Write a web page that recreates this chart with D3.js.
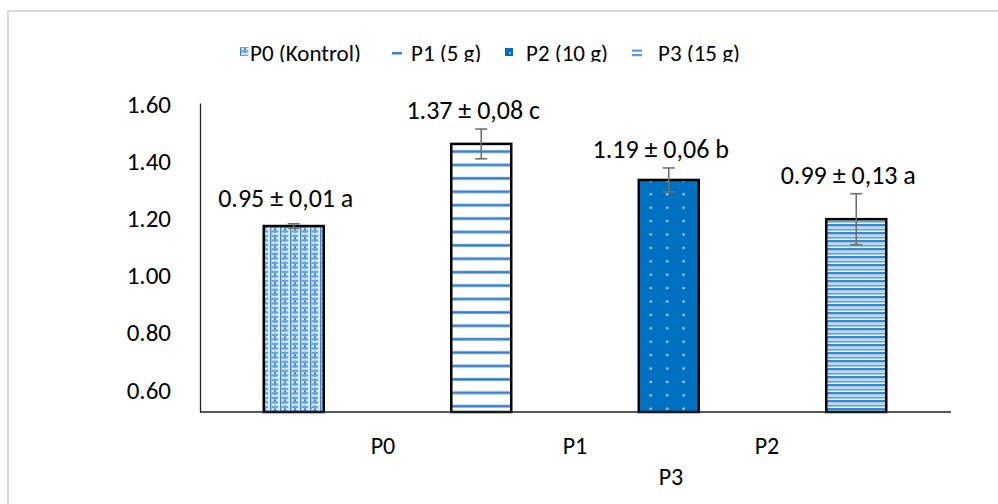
<!DOCTYPE html>
<html>
<head>
<meta charset="utf-8">
<script src="https://cdn.jsdelivr.net/npm/d3@7"></script>
<style>
  body { margin: 0; background: #fff; }
  svg text { font-family: Carlito, Lato, "Open Sans", sans-serif; font-weight: 400; fill: #000; }
</style>
</head>
<body>
<div id="chart"></div>
<script>
// data
const categories = ['P0', 'P1', 'P2', 'P3']
const seriesNames = ['P0 (Kontrol)', 'P1 (5 g)', 'P2 (10 g)', 'P3 (15 g)']
const barValues = [1.17, 1.457, 1.331, 1.194]
const errValues = [0.008, 0.052, 0.042, 0.089]
const dataLabels = ['0.95 ± 0,01 a', '1.37 ± 0,08 c', '1.19 ± 0,06 b', '0.99 ± 0,13 a']
const yTicks = [0.6, 0.8, 1.0, 1.2, 1.4, 1.6]

const width = 998
const height = 504
const margin = { top: 103, right: 48, bottom: 92, left: 200 }
const yMin = 0.52

var svg = d3.select('#chart').append('svg')
    .attr('width', width)
    .attr('height', height)

// patterns
var defs = svg.append('defs')

// P0 - woven look
var p0 = defs.append('pattern').attr('id', 'pat0')
    .attr('patternUnits', 'userSpaceOnUse').attr('width', 10).attr('height', 9)
p0.append('rect').attr('width', 10).attr('height', 9).attr('fill', '#dcebf8')
p0.append('ellipse').attr('cx', 5).attr('cy', 2).attr('rx', 3.4).attr('ry', 1.4).attr('fill', '#6aa6dc')
p0.append('ellipse').attr('cx', 5).attr('cy', 6.5).attr('rx', 3.4).attr('ry', 1.4).attr('fill', '#6aa6dc')
p0.append('rect').attr('x', 0).attr('y', 0).attr('width', 1.4).attr('height', 9).attr('fill', '#3f86c8')
p0.append('circle').attr('cx', 5).attr('cy', 4.3).attr('r', 1).attr('fill', '#2e75b6')

// P1 - thin horizontal lines
var p1 = defs.append('pattern').attr('id', 'pat1')
    .attr('patternUnits', 'userSpaceOnUse').attr('width', 10).attr('height', 13.4)
p1.append('rect').attr('width', 10).attr('height', 13.4).attr('fill', '#fff')
p1.append('rect').attr('y', 2.4).attr('width', 10).attr('height', 3.6).attr('fill', '#bdd7ee')
p1.append('rect').attr('y', 3.1).attr('width', 10).attr('height', 2.2).attr('fill', '#2e7cc4')

// P2 - solid blue with light dots
var p2 = defs.append('pattern').attr('id', 'pat2')
    .attr('patternUnits', 'userSpaceOnUse').attr('width', 16.4).attr('height', 13.4)
    .attr('x', 3)
p2.append('rect').attr('width', 16.4).attr('height', 13.4).attr('fill', '#0070c0')
p2.append('circle').attr('cx', 8.2).attr('cy', 6.7).attr('r', 1.3).attr('fill', '#b9d9f2')

// P3 - dense stripes
var p3 = defs.append('pattern').attr('id', 'pat3')
    .attr('patternUnits', 'userSpaceOnUse').attr('width', 10).attr('height', 8)
p3.append('rect').attr('width', 10).attr('height', 8).attr('fill', '#eaf3fb')
p3.append('rect').attr('y', 0).attr('width', 10).attr('height', 2).attr('fill', '#3a85c9')
p3.append('rect').attr('y', 2).attr('width', 10).attr('height', 1.5).attr('fill', '#9ec6ea')
p3.append('rect').attr('y', 4.6).attr('width', 10).attr('height', 2).attr('fill', '#6aa6dc')

const patterns = ['url(#pat0)', 'url(#pat1)', 'url(#pat2)', 'url(#pat3)']

// outer frame
svg.append('rect')
    .attr('x', 8).attr('y', 11)
    .attr('width', 1000).attr('height', 520)
    .attr('fill', '#fff')
    .attr('stroke', '#d9d9d9')
    .attr('stroke-width', 2)

// scales
var xScale = d3.scaleBand()
    .domain(categories)
    .range([margin.left, width - margin.right])
    .paddingInner(0.68)
    .paddingOuter(0.34)

var yScale = d3.scaleLinear()
    .domain([yMin, 1.6])
    .range([height - margin.bottom, margin.top])

// y axis
var yAxis = d3.axisLeft(yScale)
    .tickValues(yTicks)
    .tickSize(0)
    .tickPadding(29)
    .tickFormat(d3.format('.2f'))

var gy = svg.append('g')
    .attr('transform', 'translate(' + margin.left + ',0)')
    .call(yAxis)
gy.select('.domain').attr('stroke', '#222').attr('stroke-width', 1.3)
gy.selectAll('text').style('font-size', '25px').attr('dy', '0.36em')

// bars
var cx = d => xScale(d) + xScale.bandwidth() / 2

svg.selectAll('rect.bar')
    .data(categories)
    .enter().append('rect')
    .attr('class', 'bar')
    .attr('x', d => xScale(d))
    .attr('y', (d, i) => yScale(barValues[i]))
    .attr('width', xScale.bandwidth())
    .attr('height', (d, i) => yScale(yMin) - yScale(barValues[i]))
    .attr('fill', (d, i) => patterns[i])
    .attr('stroke', '#000')
    .attr('stroke-width', 2.5)

// x axis
var xAxis = d3.axisBottom(xScale).tickSize(0).tickFormat('')
var gx = svg.append('g')
    .attr('transform', 'translate(0,' + yScale(yMin) + ')')
    .call(xAxis)
gx.select('.domain').attr('stroke', '#222').attr('stroke-width', 1.3)
    .attr('d', 'M' + margin.left + ',0H' + (width - margin.right + 1))

// error bars
var capW = 6
var err = svg.append('g').attr('stroke', '#6f6f6f').attr('stroke-width', 1.6)
categories.forEach(function(c, i) {
    var hi = yScale(barValues[i] + errValues[i])
    var lo = yScale(barValues[i] - errValues[i])
    err.append('line').attr('x1', cx(c)).attr('x2', cx(c)).attr('y1', hi).attr('y2', lo)
    err.append('line').attr('x1', cx(c) - capW).attr('x2', cx(c) + capW).attr('y1', hi).attr('y2', hi)
    err.append('line').attr('x1', cx(c) - capW).attr('x2', cx(c) + capW).attr('y1', lo).attr('y2', lo)
})

// data labels, kept clear of both the bar and the error bar
svg.selectAll('text.dlabel')
    .data(categories)
    .enter().append('text')
    .attr('class', 'dlabel')
    .attr('x', d => cx(d) - 8)
    .attr('y', (d, i) => Math.min(yScale(barValues[i] + errValues[i]) - 10, yScale(barValues[i]) - 19))
    .attr('text-anchor', 'middle')
    .style('font-size', '26px')
    .text((d, i) => dataLabels[i])

// category labels wrap like a text box: 3 per row, the second row shifted half a slot
var itemW = 192
var perRow = 3
var plotMid = (margin.left + width - margin.right) / 2
svg.selectAll('text.xlabel')
    .data(categories)
    .enter().append('text')
    .attr('class', 'xlabel')
    .attr('x', function(d, i) {
        var row = Math.floor(i / perRow)
        var n = Math.min(perRow, categories.length - row * perRow)
        var col = i % perRow
        return plotMid + (col - (n - 1) / 2 + row * 0.5) * itemW
    })
    .attr('y', (d, i) => yScale(yMin) + 42 + Math.floor(i / perRow) * 31)
    .attr('text-anchor', 'middle')
    .style('font-size', '24px')
    .text(d => d)

// legend (clipped at the bottom like the original)
defs.append('clipPath').attr('id', 'legclip')
    .append('rect').attr('x', 0).attr('y', 30).attr('width', width).attr('height', 32)

var legend = svg.append('g').attr('clip-path', 'url(#legclip)')
var legX = [240, 392, 505, 632]
var legTextX = [250, 411, 526, 658]

legend.selectAll('text')
    .data(seriesNames)
    .enter().append('text')
    .attr('x', (d, i) => legTextX[i])
    .attr('y', 61)
    .style('font-size', '23px')
    .text(d => d)

// legend icons
legend.append('rect').attr('x', legX[0]).attr('y', 47).attr('width', 9).attr('height', 9).attr('fill', 'url(#pat0)')
legend.append('rect').attr('x', legX[1]).attr('y', 52).attr('width', 10).attr('height', 2.5).attr('fill', '#3a85c9')
legend.append('rect').attr('x', legX[2]).attr('y', 48).attr('width', 8).attr('height', 8).attr('fill', '#0070c0')
legend.append('circle').attr('cx', legX[2] + 5).attr('cy', 53).attr('r', 0.9).attr('fill', '#b9d9f2')
legend.append('rect').attr('x', legX[3]).attr('y', 49.5).attr('width', 10).attr('height', 2.2).attr('fill', '#5b9bd5')
legend.append('rect').attr('x', legX[3]).attr('y', 54).attr('width', 10).attr('height', 2.2).attr('fill', '#5b9bd5')
</script>
</body>
</html>
